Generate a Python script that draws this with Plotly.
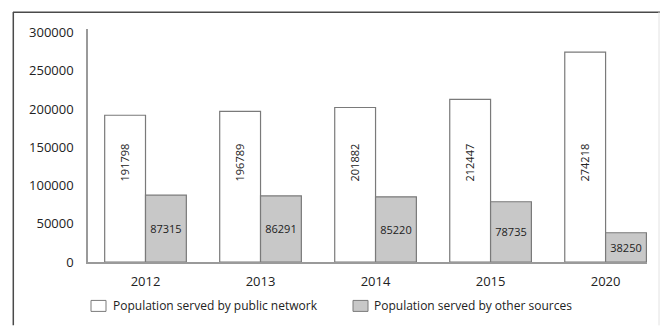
import plotly.graph_objects as go

# Population served by water supply source, per year
years = ["2012", "2013", "2014", "2015", "2020"]
public_network = [191798, 196789, 201882, 212447, 274218]
other_sources = [87315, 86291, 85220, 78735, 38250]
series_names = ["Population served by public network", "Population served by other sources"]
y_ticks = [0, 50000, 100000, 150000, 200000, 250000, 300000]

W, H = 660, 326
L, R, T, B = 88, 13, 29, 63.5
PW, PH = W - L - R, H - T - B

FONT = "Open Sans"
TXT = "#222222"
EDGE = "#7a7a7a"
GREY = "#c8c8c8"


def px_x(px):
    return (px - L) / PW


def px_y(py):
    return (H - B - py) / PH


fig = go.Figure()
fig.add_trace(go.Bar(
    x=years, y=public_network, name=series_names[0],
    marker=dict(color="white", line=dict(color=EDGE, width=1.2)),
    showlegend=False,
))
fig.add_trace(go.Bar(
    x=years, y=other_sources, name=series_names[1],
    marker=dict(color=GREY, line=dict(color=EDGE, width=1.2)),
    text=[str(v) for v in other_sources], textposition="inside",
    insidetextanchor="middle", textangle=0, constraintext="none",
    textfont=dict(family=FONT, size=11, color=TXT),
    showlegend=False,
))

annotations = []
# vertical value labels inside the public-network bars (x given as category index)
for i, v in enumerate(public_network):
    annotations.append(dict(
        x=i, y=130000, xref="x", yref="y", text=str(v), showarrow=False,
        textangle=-90, xshift=-20.6, font=dict(family=FONT, size=11, color=TXT),
    ))

shapes = []
# hand-drawn legend below the axis
legend_items = [(91, 112, "white"), (353, 373, GREY)]
for (bx, tx, fill), name in zip(legend_items, series_names):
    shapes.append(dict(
        type="rect", xref="paper", yref="paper",
        x0=px_x(bx), x1=px_x(bx + 15), y0=px_y(312), y1=px_y(301),
        fillcolor=fill, line=dict(color=EDGE, width=1),
    ))
    annotations.append(dict(
        x=px_x(tx), y=px_y(306.5), xref="paper", yref="paper", text=name,
        showarrow=False, xanchor="left", yanchor="middle", xshift=-1,
        font=dict(family=FONT, size=12, color=TXT),
    ))

# frame around the figure
shapes += [
    dict(type="line", xref="paper", yref="paper", x0=px_x(13), x1=px_x(660),
         y0=px_y(12.3), y1=px_y(12.3), line=dict(color="#4a4a4a", width=1.5)),
    dict(type="line", xref="paper", yref="paper", x0=px_x(13.3), x1=px_x(13.3),
         y0=px_y(12), y1=px_y(326), line=dict(color="#4a4a4a", width=1.5)),
    dict(type="line", xref="paper", yref="paper", x0=px_x(659), x1=px_x(659),
         y0=px_y(12), y1=px_y(326), line=dict(color="#e2e2e2", width=1)),
]

fig.update_layout(
    width=W, height=H,
    margin=dict(l=L, r=R, t=T, b=B),
    paper_bgcolor="white", plot_bgcolor="white",
    barmode="group", bargap=0.29, bargroupgap=0,
    font=dict(family=FONT, size=13, color=TXT),
    shapes=shapes, annotations=annotations,
    xaxis=dict(
        type="category", range=[-0.5, 4.36], showgrid=False, zeroline=False,
        showline=True, linecolor="#9a9a9a", linewidth=1.5, ticks="",
        ticklabelstandoff=7,
        tickfont=dict(family=FONT, size=13, color=TXT),
    ),
    yaxis=dict(
        range=[0, 304500], tickvals=y_ticks, ticktext=[str(v) for v in y_ticks],
        showgrid=False, zeroline=False, showline=True, linecolor="#9a9a9a",
        linewidth=1.5, ticks="", ticklabelstandoff=10,
        tickfont=dict(family=FONT, size=13, color=TXT),
    ),
)

fig.write_html("out.html")
